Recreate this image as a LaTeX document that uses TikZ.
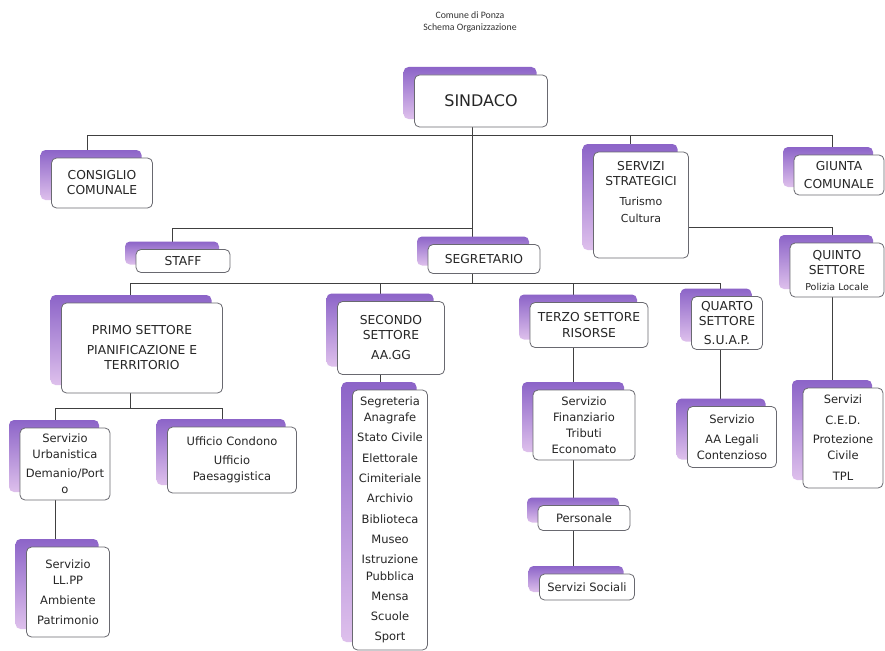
\documentclass[tikz,border=0pt]{standalone}
\usepackage{fontspec}
\setmainfont{DejaVu Sans}
\newfontfamily\titolofont{Carlito}
\usetikzlibrary{shadows,backgrounds}

\definecolor{viola}{RGB}{140,100,200}
\definecolor{lilla}{RGB}{222,192,236}
\definecolor{bordo}{RGB}{105,105,112}

\begin{document}
\begin{tikzpicture}[
        x=1pt, y=-1pt, % пиксели, ось y вниз
        box/.style={draw=bordo, line width=0.8pt, rounded corners=5pt, fill=white,
            align=center, inner sep=2pt, text=black!85,
            general shadow={shadow xshift=-11pt, shadow yshift=8pt, top color=viola, bottom color=lilla}}, % карточка с фиолетовой подложкой
        caps/.style={font=\fontsize{12.3}{15}\selectfont},
        testo/.style={font=\fontsize{11.5}{16}\selectfont},
        link/.style={draw=black!75, line width=0.9pt}, % соединительные линии
    ]

    \useasboundingbox (0,0) rectangle (885,650);

    \node[font=\titolofont\fontsize{9.8}{12}\selectfont, align=center, text=black!80] (titolo) at (470,22) {Comune di Ponza\\Schema Organizzazione};

    % верхний уровень
    \node[box, minimum width=133, minimum height=52, font=\fontsize{16}{18}\selectfont] (sindaco) at (481,101) {SINDACO};
    \node[box, caps, minimum width=101, minimum height=50] (consiglio) at (102,183) {CONSIGLIO\\COMUNALE};
    \node[box, caps, minimum width=95, minimum height=106] (servizi) at (641,205) {SERVIZI\\STRATEGICI\\[5pt]{\fontsize{11}{15}\selectfont Turismo}\\[2pt]{\fontsize{11}{15}\selectfont Cultura}\\[12pt]\mbox{}};
    \node[box, caps, minimum width=90, minimum height=40] (giunta) at (839,175) {GIUNTA\\[3pt]COMUNALE};

    % второй уровень
    \node[box, caps, minimum width=94, minimum height=23] (staff) at (183,261) {STAFF};
    \node[box, caps, minimum width=112, minimum height=29] (segretario) at (484,259) {SEGRETARIO};
    \node[box, caps, minimum width=94, minimum height=54] (quinto) at (837,270) {QUINTO\\SETTORE\\[1pt]{\fontsize{9.5}{12}\selectfont Polizia Locale}};

    % секторы
    \node[box, caps, minimum width=161, minimum height=90] (primo) at (142,348) {PRIMO SETTORE\\[5pt]PIANIFICAZIONE E\\TERRITORIO};
    \node[box, caps, minimum width=107, minimum height=73] (secondo) at (391,338) {SECONDO\\SETTORE\\[5pt]AA.GG};
    \node[box, caps, minimum width=118, minimum height=45] (terzo) at (589,325) {TERZO SETTORE\\[1pt]RISORSE};
    \node[box, caps, minimum width=71, minimum height=53] (quarto) at (727,323) {QUARTO\\SETTORE\\[4pt]S.U.A.P.};

    % службы
    \node[box, testo, minimum width=90, minimum height=72] (urbanistica) at (65,464) {Servizio\\Urbanistica\\[3pt]Demanio/Port\\o};
    \node[box, testo, minimum width=129, minimum height=66] (condono) at (232,460) {Ufficio Condono\\[3pt]Ufficio\\Paesaggistica};
    \node[box, testo, minimum width=83, minimum height=90] (llpp) at (68,592) {Servizio\\LL.PP\\[4pt]Ambiente\\[4pt]Patrimonio};
    \node[box, font=\fontsize{11.5}{20.3}\selectfont, minimum width=75, minimum height=260] (elenco) at (390,520)
        {Segreteria\\[-4pt]Anagrafe\\Stato Civile\\Elettorale\\Cimiteriale\\Archivio\\Biblioteca\\Museo\\Istruzione\\[-4pt]Pubblica\\Mensa\\Scuole\\Sport};
    \node[box, testo, minimum width=102, minimum height=70] (finanziario) at (584,425) {Servizio\\Finanziario\\Tributi\\Economato};
    \node[box, testo, minimum width=92, minimum height=25] (personale) at (584,518) {Personale};
    \node[box, testo, minimum width=95, minimum height=26] (sociali) at (587,587) {Servizi Sociali};
    \node[box, testo, minimum width=89, minimum height=61] (legali) at (732,437) {Servizio\\[4pt]AA Legali\\Contenzioso};
    \node[box, testo, minimum width=80, minimum height=100] (ced) at (843,438) {Servizi\\[5pt]C.E.D.\\[3pt]Protezione\\Civile\\[5pt]TPL};

    \coordinate (bus0) at (472,135);
    \coordinate (bus1) at (472,228);
    \coordinate (bus2) at (472,283);
    \coordinate (bus3) at (130,408);

    \begin{scope}[on background layer]
        \fill[white] (0,0) rectangle (885,650);
        \draw[link] (bus0 |- sindaco.center) -- (bus2);
        \draw[link] (bus0) -| ([xshift=-15]consiglio.center);
        \draw[link] (bus0) -| ([xshift=-11]servizi.center);
        \draw[link] (bus0) -| ([xshift=-7]giunta.center);
        \draw[link] (bus1) -| ([xshift=-11]staff.center);
        \draw[link] ([yshift=-22]servizi.center) -| ([xshift=-5]quinto.center);
        \draw[link] (bus2) -| ([xshift=-12]primo.center);
        \draw[link] (bus2) -| ([xshift=-11]secondo.center);
        \draw[link] (bus2) -| ([xshift=-16]terzo.center);
        \draw[link] (bus2) -| ([xshift=-7]quarto.center);
        \draw[link] ([xshift=-12]primo.center) -- (bus3);
        \draw[link] (bus3) -| ([xshift=-10]urbanistica.center);
        \draw[link] (bus3) -| ([xshift=-10]condono.center);
        \draw[link] ([xshift=-10]urbanistica.center) -- ([xshift=-10]urbanistica.center |- llpp.center);
        \draw[link] ([xshift=-11]secondo.center) -- ([xshift=-11]secondo.center |- elenco.center);
        \draw[link] ([xshift=-16]terzo.center) -- ([xshift=-16]terzo.center |- sociali.center);
        \draw[link] ([xshift=-7]quarto.center) -- ([xshift=-7]quarto.center |- legali.center);
        \draw[link] ([xshift=-5]quinto.center) -- ([xshift=-5]quinto.center |- ced.center);
    \end{scope}

\end{tikzpicture}
\end{document}
